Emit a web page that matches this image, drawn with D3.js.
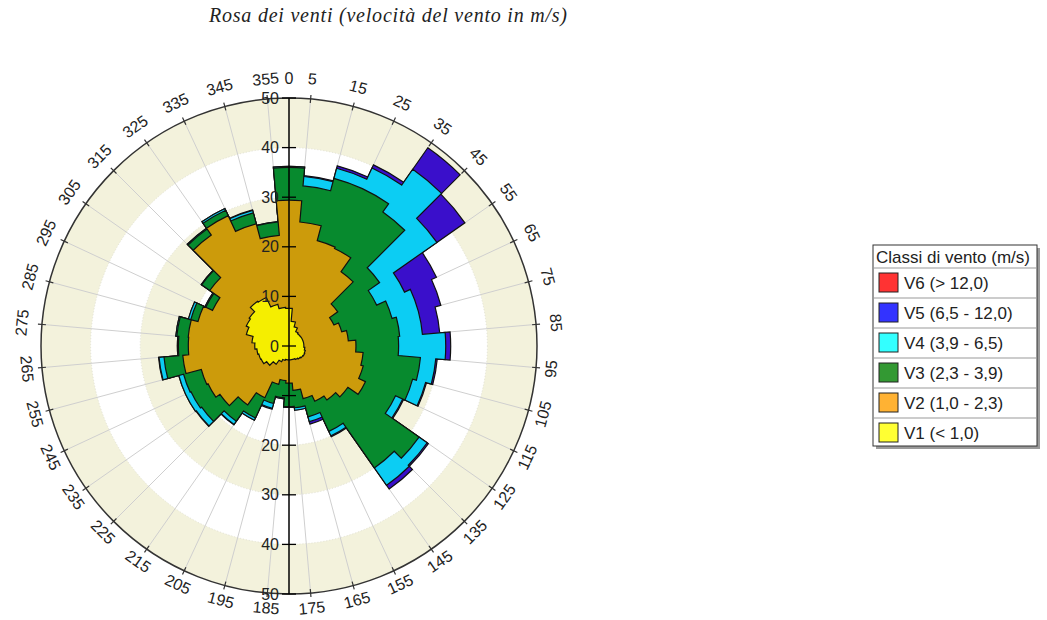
<!DOCTYPE html>
<html>
<head>
<meta charset="utf-8">
<script src="https://cdn.jsdelivr.net/npm/d3@7"></script>
<style>
  body { margin: 0; background: #fff; }
  svg { display: block; }
</style>
</head>
<body>
<svg id="chart"></svg>
<script>
// Settori di direzione (centro del settore, gradi)
const direzioni = [0, 10, 20, 30, 40, 50, 60, 70, 80, 90, 100, 110, 120, 130, 140, 150, 160, 170,
                   180, 190, 200, 210, 220, 230, 240, 250, 260, 270, 280, 290, 300, 310, 320, 330, 340, 350];

// Frequenze per classe di velocità
const v1 = [7.6, 5.0, 4.0, 3.2, 3.0, 3.0, 3.0, 3.0, 3.0, 3.0, 3.2, 3.4, 3.5, 3.4, 3.2, 3.0, 2.8, 2.8,
            2.8, 2.8, 3.0, 3.5, 4.5, 5.5, 6.2, 6.3, 6.5, 6.9, 7.5, 8.9, 9.5, 9.8, 11.0, 10.8, 8.7, 7.8];
const v2 = [21.8, 20.1, 18.0, 18.5, 15.3, 9.0, 7.0, 8.0, 9.0, 10.5, 11.8, 12.1, 13.5, 11.1, 10.1, 9.3, 8.2, 6.2,
            4.7, 4.2, 5.0, 8.0, 10.0, 11.5, 11.8, 12.0, 15.0, 13.4, 12.9, 10.1, 7.5, 9.7, 16.3, 18.2, 16.8, 14.6];
const v3 = [6.6, 7.3, 13.0, 13.3, 14.7, 10.3, 9.5, 10.5, 10.4, 8.6, 11.6, 10.3, 6.7, 17.5, 16.7, 6.7, 3.8, 3.5,
            4.7, 3.5, 4.0, 4.5, 4.0, 4.5, 3.8, 3.7, 3.8, 2.0, 2.3, 1.5, 1.5, 2.0, 1.5, 1.2, 2.3, 2.7];
const v4 = [0.2, 1.9, 2.1, 4.6, 10.5, 14.1, 6.2, 5.5, 4.6, 9.5, 3.1, 2.7, 1.6, 2.0, 4.3, 1.0, 1.0, 0.5,
            0.2, 0.2, 1.0, 0.5, 0.8, 1.3, 1.2, 1.0, 1.0, 0.2, 0.2, 0.5, 0.2, 0.1, 0.2, 0.4, 0.5, 0.1];
const v5 = [0.0, 0.2, 0.5, 0.7, 5.3, 6.9, 7.1, 4.7, 3.5, 1.0, 0.3, 0.2, 0.2, 0.3, 0.9, 0.2, 0.5, 0.0,
            0.0, 0.0, 0.2, 0.0, 0.1, 0.1, 0.0, 0.0, 0.1, 0.0, 0.0, 0.0, 0.0, 0.0, 0.0, 0.0, 0.1, 0.0];
const v6 = [0, 0, 0, 0, 0, 0, 0, 0, 0, 0, 0, 0, 0, 0, 0, 0, 0, 0,
            0, 0, 0, 0, 0, 0, 0, 0, 0, 0, 0, 0, 0, 0, 0, 0, 0, 0];

const chiavi = ["V1", "V2", "V3", "V4", "V5", "V6"];
const etichetteClassi = ["V1 (< 1,0)", "V2 (1,0 - 2,3)", "V3 (2,3 - 3,9)", "V4 (3,9 - 6,5)", "V5 (6,5 - 12,0)", "V6 (> 12,0)"];
const coloriRosa = ["#f5ee00", "#cc9b0b", "#078a2e", "#0ccdf3", "#3a0fcb", "#e8302a"];
const coloriLegenda = ["#ffff33", "#ffb233", "#339933", "#33ffff", "#3333ff", "#ff3333"];

// Etichette angolari e tacche dell'asse radiale
const angoliEtichette = [0, 5, 15, 25, 35, 45, 55, 65, 75, 85, 95, 105, 115, 125, 135, 145, 155, 165, 175,
                         185, 195, 205, 215, 225, 235, 245, 255, 265, 275, 285, 295, 305, 315, 325, 335, 345, 355];
const ticksSopra = [0, 10, 20, 30, 40, 50];
const ticksSotto = [20, 30, 40, 50];
const bande = [50, 40, 30, 20, 10];

const width = 1047, height = 620;
const cx = 289, cy = 346, R = 248;

const svg = d3.select("#chart")
    .attr("width", width)
    .attr("height", height);

// Title
svg.append("text")
    .attr("x", 388)
    .attr("y", 22)
    .attr("text-anchor", "middle")
    .attr("font-family", "'Liberation Serif', 'Times New Roman', serif")
    .attr("font-style", "italic")
    .attr("font-size", "20px")
    .attr("textLength", 358)
    .attr("lengthAdjust", "spacing")
    .attr("fill", "#222")
    .text("Rosa dei venti (velocità del vento in m/s)");

const r = d3.scaleLinear().domain([0, 50]).range([0, R]);
const rad = deg => deg * Math.PI / 180;

const g = svg.append("g").attr("transform", `translate(${cx},${cy})`);

// Background bands, alternating beige / white
g.selectAll("circle.banda")
    .data(bande)
    .join("circle")
    .attr("class", "banda")
    .attr("r", d => r(d))
    .attr("fill", (d, i) => i % 2 === 0 ? "#f3f2dc" : "#ffffff");

g.selectAll("circle.griglia")
    .data(bande.slice(1))
    .join("circle")
    .attr("class", "griglia")
    .attr("r", d => r(d))
    .attr("fill", "none")
    .attr("stroke", "#e2e2d6")
    .attr("stroke-dasharray", "1,2");

// Spokes at sector borders
g.selectAll("line.raggio")
    .data(angoliEtichette.filter(a => a !== 0))
    .join("line")
    .attr("class", "raggio")
    .attr("x1", 0).attr("y1", 0)
    .attr("x2", d => r(50) * Math.sin(rad(d)))
    .attr("y2", d => -r(50) * Math.cos(rad(d)))
    .attr("stroke", "#cfcfcf")
    .attr("stroke-width", 1);

// Stacked data
const righe = direzioni.map((d, i) => ({
    dir: d, V1: v1[i], V2: v2[i], V3: v3[i], V4: v4[i], V5: v5[i], V6: v6[i]
}));
const serie = d3.stack().keys(chiavi)(righe);

function profilo(s) {
    const p = d3.path();
    s.forEach(d => {
        const a = d.data.dir;
        p.arc(0, 0, r(d[1]), rad(a - 5 - 90), rad(a + 5 - 90));
    });
    p.closePath();
    return p.toString();
}

// draw outer cumulative shapes first, inner on top
const visibili = serie.filter(s => d3.sum(s, d => d[1] - d[0]) > 0);
g.selectAll("path.classe")
    .data(visibili.slice().reverse())
    .join("path")
    .attr("class", "classe")
    .attr("d", profilo)
    .attr("fill", s => coloriRosa[s.index])
    .attr("stroke", "#111")
    .attr("stroke-width", 1.2)
    .attr("stroke-linejoin", "miter");

// Outer circle and angular ticks
g.append("circle")
    .attr("r", r(50))
    .attr("fill", "none")
    .attr("stroke", "#333")
    .attr("stroke-width", 1.5);

g.selectAll("line.tacca")
    .data(angoliEtichette.filter(a => a !== 0))
    .join("line")
    .attr("class", "tacca")
    .attr("x1", d => (R - 4) * Math.sin(rad(d)))
    .attr("y1", d => -(R - 4) * Math.cos(rad(d)))
    .attr("x2", d => (R + 4) * Math.sin(rad(d)))
    .attr("y2", d => -(R + 4) * Math.cos(rad(d)))
    .attr("stroke", "#333")
    .attr("stroke-width", 1.2);

// Angle labels, tangential (flipped on the lower half)
g.selectAll("text.angolo")
    .data(angoliEtichette)
    .join("text")
    .attr("class", "angolo")
    .attr("transform", d => {
        const sotto = d > 90 && d < 270;
        const rl = sotto ? R + 15 : R + 20;
        const x = rl * Math.sin(rad(d)), y = -rl * Math.cos(rad(d));
        const rot = sotto ? d - 180 : d;
        return `translate(${x},${y}) rotate(${rot})`;
    })
    .attr("text-anchor", "middle")
    .attr("dominant-baseline", "central")
    .attr("font-family", "'Liberation Sans', Arial, sans-serif")
    .attr("font-size", "16px")
    .attr("fill", "#222")
    .text(d => d);

// Radial axis (vertical line through the centre)
g.append("line")
    .attr("x1", 0).attr("x2", 0)
    .attr("y1", -r(50)).attr("y2", r(50))
    .attr("stroke", "#000")
    .attr("stroke-width", 1.5);

const tacche = ticksSopra.map(v => ({ v, y: -r(v) }))
    .concat([10].concat(ticksSotto).map(v => ({ v, y: r(v), nascosta: !ticksSotto.includes(v) })));

g.selectAll("line.tickR")
    .data(tacche)
    .join("line")
    .attr("class", "tickR")
    .attr("x1", -7).attr("x2", 7)
    .attr("y1", d => d.y).attr("y2", d => d.y)
    .attr("stroke", "#000")
    .attr("stroke-width", 1.3);

g.selectAll("text.tickR")
    .data(tacche.filter(d => !d.nascosta))
    .join("text")
    .attr("class", "tickR")
    .attr("x", -10)
    .attr("y", d => d.y)
    .attr("text-anchor", "end")
    .attr("dominant-baseline", "central")
    .attr("font-family", "'Liberation Sans', Arial, sans-serif")
    .attr("font-size", "16px")
    .attr("fill", "#222")
    .text(d => d.v);

// Legend
const lx = 873, ly = 245, lw = 164, th = 23, rh = 30;
const voci = chiavi.map((k, i) => ({ k, nome: etichetteClassi[i], colore: coloriLegenda[i] })).reverse();
const lh = th + rh * voci.length - 2;

const leg = svg.append("g");
leg.append("rect")
    .attr("x", lx + 3).attr("y", ly + 3)
    .attr("width", lw).attr("height", lh)
    .attr("fill", "#9a9a9a");
leg.append("rect")
    .attr("x", lx).attr("y", ly)
    .attr("width", lw).attr("height", lh)
    .attr("fill", "#fff")
    .attr("stroke", "#333");
leg.append("text")
    .attr("x", lx + 3).attr("y", ly + 18)
    .attr("font-family", "'Liberation Sans', Arial, sans-serif")
    .attr("font-size", "17px")
    .attr("fill", "#222")
    .text("Classi di vento (m/s)");

const riga = leg.selectAll("g.voce")
    .data(voci)
    .join("g")
    .attr("class", "voce")
    .attr("transform", (d, i) => `translate(${lx},${ly + th + i * rh})`);

riga.append("line")
    .attr("x1", 0).attr("x2", lw)
    .attr("y1", 0).attr("y2", 0)
    .attr("stroke", "#999");
riga.append("rect")
    .attr("x", 6).attr("y", 5)
    .attr("width", 19).attr("height", 19)
    .attr("fill", d => d.colore)
    .attr("stroke", "#222");
riga.append("text")
    .attr("x", 31).attr("y", 21)
    .attr("font-family", "'Liberation Sans', Arial, sans-serif")
    .attr("font-size", "17px")
    .attr("fill", "#222")
    .text(d => d.nome);
</script>
</body>
</html>
